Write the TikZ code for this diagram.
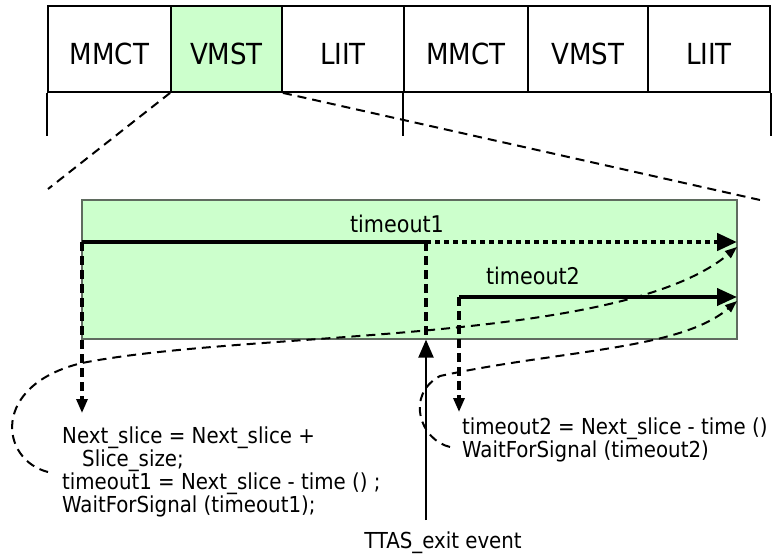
\documentclass[tikz,border=0pt]{standalone}
\usepackage{fontspec}
\setmainfont{DejaVu Sans Condensed}
\usetikzlibrary{arrows.meta}
\definecolor{lgreen}{HTML}{CCFFCC}
\definecolor{gborder}{HTML}{5F6B5F}
\begin{document}
\begin{tikzpicture}[x=1pt,y=-1pt,
  cell/.style={draw=black, line width=1.8pt, minimum height=86pt, inner sep=0pt,
    text height=30pt, text depth=0pt, font=\fontsize{29}{32}\selectfont},
  tick/.style={line width=1.8pt},
  zoomline/.style={line width=2pt, dash pattern=on 9pt off 6pt},
  tline/.style={line width=4pt},
  dotline/.style={line width=4.5pt, dash pattern=on 5pt off 4pt},
  dvert/.style={line width=3.2pt, dash pattern=on 9pt off 5pt},
  curve/.style={line width=2pt, dash pattern=on 9pt off 6pt},
  bigtip/.style={-{Triangle[length=20pt,width=17pt]}},
  midtip/.style={-{Triangle[length=14pt,width=11pt]}},
  smalltip/.style={-{Triangle[length=12pt,width=9pt]}},
  code/.style={inner sep=0pt, align=left, font=\fontsize{22}{23}\selectfont},
  lbl/.style={inner sep=0pt, font=\fontsize{23}{26}\selectfont}]
\useasboundingbox (0,0) rectangle (776,554);
% top row of slots
\node[cell, minimum width=123pt] (b1) at (109.5,49) {MMCT};
\node[cell, minimum width=111pt, fill=lgreen] (b2) at (226.5,49) {VMST};
\node[cell, minimum width=122pt] (b3) at (343,49) {LIIT};
\node[cell, minimum width=124pt] (b4) at (466,49) {MMCT};
\node[cell, minimum width=120pt] (b5) at (588,49) {VMST};
\node[cell, minimum width=122pt] (b6) at (709,49) {LIIT};
\draw[tick] (b1.south west) -- ++(0,43);
\draw[tick] (b4.south west) -- ++(0,43);
\draw[tick] (b6.south east) -- ++(0,43);
% zoom box
\node[draw=gborder, fill=lgreen, line width=1.2pt, minimum width=655pt,
  minimum height=139pt, inner sep=0pt] (zb) at (409.5,269.5) {};
\coordinate (zl) at (48,189);
\coordinate (zr) at (760,200);
\draw[zoomline] (b2.south west) -- (zl);
\draw[zoomline] (b2.south east) -- (zr);
% key points
\coordinate (t1s) at (82,242);
\coordinate (t1m) at (426,242);
\coordinate (t1e) at (737,242);
\coordinate (t2s) at (459,297);
\coordinate (t2e) at (737,297);
\coordinate (a1) at (82,413);
\coordinate (a2) at (459,412);
\coordinate (c1s) at (48,472);
\coordinate (c1e) at (737,247);
\coordinate (c2s) at (450,447);
\coordinate (c2e) at (737,301);
% labels
\node[lbl] (lt1) at (397,224) {timeout1};
\node[lbl] (lt2) at (533,276) {timeout2};
% texts
\node[code, anchor=base west] (txt1) at (62,512)
  {Next\_slice = Next\_slice +\\\hspace*{20pt}Slice\_size;\\timeout1 = Next\_slice - time () ;\\WaitForSignal (timeout1);};
\node[code, anchor=base west] (txt2) at (462,457)
  {timeout2 = Next\_slice - time ()\\WaitForSignal (timeout2)};
\node[code, anchor=base, inner sep=0pt] (ttas) at (443,548) {TTAS\_exit event};
% curves
\draw[curve, smalltip] (c1s) .. controls (0,460) and (-10,385) .. (82,363)
  .. controls (250,330) and (620,345) .. (c1e);
\draw[curve, smalltip] (c2s) .. controls (420,440) and (405,395) .. (440,376)
  .. controls (560,350) and (680,350) .. (c2e);
% timeout lines
\draw[tline] (t1s) -- (t1m);
\draw[dotline, bigtip] (t1m) -- (t1e);
\draw[tline, bigtip] (t2s) -- (t2e);
\draw[dvert, midtip] (t1s) -- (a1);
\draw[dvert, midtip] (t2s) -- (a2);
\draw[dvert] (t1m) -- (t1m |- zb.south);
\draw[line width=2.2pt, -{Triangle[length=18pt,width=15pt]}]
  ([yshift=11pt]ttas.north -| t1m) -- (t1m |- zb.south);
\end{tikzpicture}
\end{document}
